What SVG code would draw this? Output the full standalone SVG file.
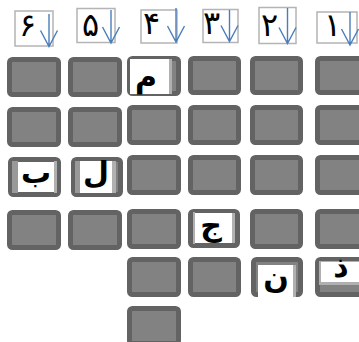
<svg xmlns="http://www.w3.org/2000/svg" width="359" height="342" viewBox="0 0 359 342">
<style>
.cell{fill:#828282;stroke:#636363;stroke-width:5}
.hdr{fill:#fff;stroke:#b4b4b4;stroke-width:1.5}
.arr{fill:none;stroke:#4a7ebb;stroke-width:1.4}
.dig{font-family:"DejaVu Sans",sans-serif;font-size:32px;fill:#000}
.let{font-family:"DejaVu Sans",sans-serif;font-weight:bold;font-size:30px;fill:#000;text-anchor:middle}
.pan{fill:#fff}
.lt{fill:#b0b0b0}
.md{fill:#999}
</style>
<rect width="359" height="342" fill="#fff"/>
<g id="headers">
<g id="h6"><rect class="hdr" x="15" y="11" width="38" height="35"/><text class="dig" x="19" y="36">۶</text></g>
<g id="h5"><rect class="hdr" x="77" y="8.5" width="38" height="34"/><text class="dig" x="82" y="36">۵</text></g>
<g id="h4"><rect class="hdr" x="141" y="10" width="36" height="33"/><text class="dig" x="143" y="34">۴</text></g>
<g id="h3"><rect class="hdr" x="203" y="9.5" width="35" height="33"/><text class="dig" x="203" y="34">۳</text></g>
<g id="h2"><rect class="hdr" x="259" y="7.5" width="37" height="36"/><text class="dig" x="261" y="36">۲</text></g>
<g id="h1"><rect class="hdr" x="317" y="12" width="40" height="31"/><text class="dig" x="324" y="36">۱</text></g>
</g>
<g id="connectors">
<path class="arr" d="M49,14V46.5M40.5,30.5L49,46.5L57.5,30.5"/>
<path class="arr" d="M111,10V43M102.5,27L111,43L119.5,27"/>
<path class="arr" d="M176,8V42M167.5,26L176,42L184.5,26"/>
<path class="arr" d="M229.5,10V41.5M221,25.5L229.5,41.5L238,25.5"/>
<path class="arr" d="M287.5,8V43.5M279,27.5L287.5,43.5L296,27.5"/>
<path class="arr" d="M350,12V45M341.5,29L350,45L358.5,29"/>
</g>
<g id="grid">
<g id="c6"><rect class="cell" x="9.5" y="59.5" width="49" height="35" rx="3"/><rect class="cell" x="9.5" y="109.5" width="49" height="35" rx="3"/><rect class="cell" x="9.5" y="212.5" width="49" height="35" rx="3"/></g>
<g id="c5"><rect class="cell" x="70.5" y="59.5" width="49" height="35" rx="3"/><rect class="cell" x="70.5" y="109.5" width="49" height="35" rx="3"/><rect class="cell" x="70.5" y="212.5" width="49" height="35" rx="3"/></g>
<g id="c4"><rect class="cell" x="129.5" y="107.5" width="49" height="35" rx="3"/><rect class="cell" x="129.5" y="157.5" width="49" height="35" rx="3"/><rect class="cell" x="129.5" y="211.5" width="49" height="35" rx="3"/><rect class="cell" x="129.5" y="259.5" width="49" height="35" rx="3"/><rect class="cell" x="129.5" y="308.5" width="49" height="35" rx="3"/></g>
<g id="c3"><rect class="cell" x="190.5" y="58.5" width="48" height="34" rx="3"/><rect class="cell" x="190.5" y="107.5" width="48" height="35" rx="3"/><rect class="cell" x="190.5" y="157.5" width="48" height="35" rx="3"/><rect class="cell" x="190.5" y="259.5" width="48" height="35" rx="3"/></g>
<g id="c2"><rect class="cell" x="252.5" y="58.5" width="48" height="34" rx="3"/><rect class="cell" x="252.5" y="107.5" width="48" height="35" rx="3"/><rect class="cell" x="252.5" y="157.5" width="48" height="35" rx="3"/><rect class="cell" x="252.5" y="211.5" width="48" height="35" rx="3"/></g>
<g id="c1"><rect class="cell" x="317.5" y="58.5" width="48" height="34" rx="3"/><rect class="cell" x="317.5" y="107.5" width="48" height="35" rx="3"/><rect class="cell" x="317.5" y="157.5" width="48" height="35" rx="3"/><rect class="cell" x="317.5" y="211.5" width="48" height="35" rx="3"/></g>
</g>
<g id="mim"><rect class="cell" x="129.5" y="58.5" width="49" height="35" rx="3"/><rect class="pan" x="130" y="59" width="39" height="35"/><rect class="lt" x="169" y="59" width="3" height="35"/><text class="let" x="146" y="87">م</text></g>
<g id="be"><rect class="cell" x="10.5" y="159.5" width="48" height="35" rx="3"/><rect class="md" x="12" y="161" width="6" height="32"/><rect class="pan" x="18" y="162" width="36" height="30"/><rect class="lt" x="54" y="161" width="3" height="32"/><text class="let" x="36" y="183">ب</text></g>
<g id="lam"><rect class="cell" x="73.5" y="159.5" width="47" height="35" rx="3"/><rect class="md" x="75" y="161" width="5" height="32"/><rect class="pan" x="80" y="161" width="32" height="32"/><rect class="lt" x="112" y="161" width="4" height="32"/><text class="let" x="96" y="183">ل</text></g>
<g id="jim"><rect class="cell" x="190.5" y="211.5" width="47" height="34" rx="3"/><rect class="lt" x="193" y="212" width="2" height="32"/><rect class="pan" x="195" y="213" width="37" height="30"/><rect class="lt" x="232" y="213" width="3" height="30"/><text class="let" x="211" y="236">ج</text></g>
<g id="nun"><rect class="cell" x="253.5" y="259.5" width="47" height="35" rx="3"/><rect class="pan" x="258" y="265" width="35" height="32"/><rect class="lt" x="293" y="265" width="3" height="32"/><text class="let" x="276" y="288">ن</text></g>
<g id="dhal"><rect class="cell" x="317.5" y="259.5" width="48" height="35" rx="3"/><rect class="lt" x="319" y="261" width="40" height="24"/><rect class="pan" x="321" y="262" width="38" height="20"/><text class="let" x="341" y="277">ذ</text></g>
</svg>
